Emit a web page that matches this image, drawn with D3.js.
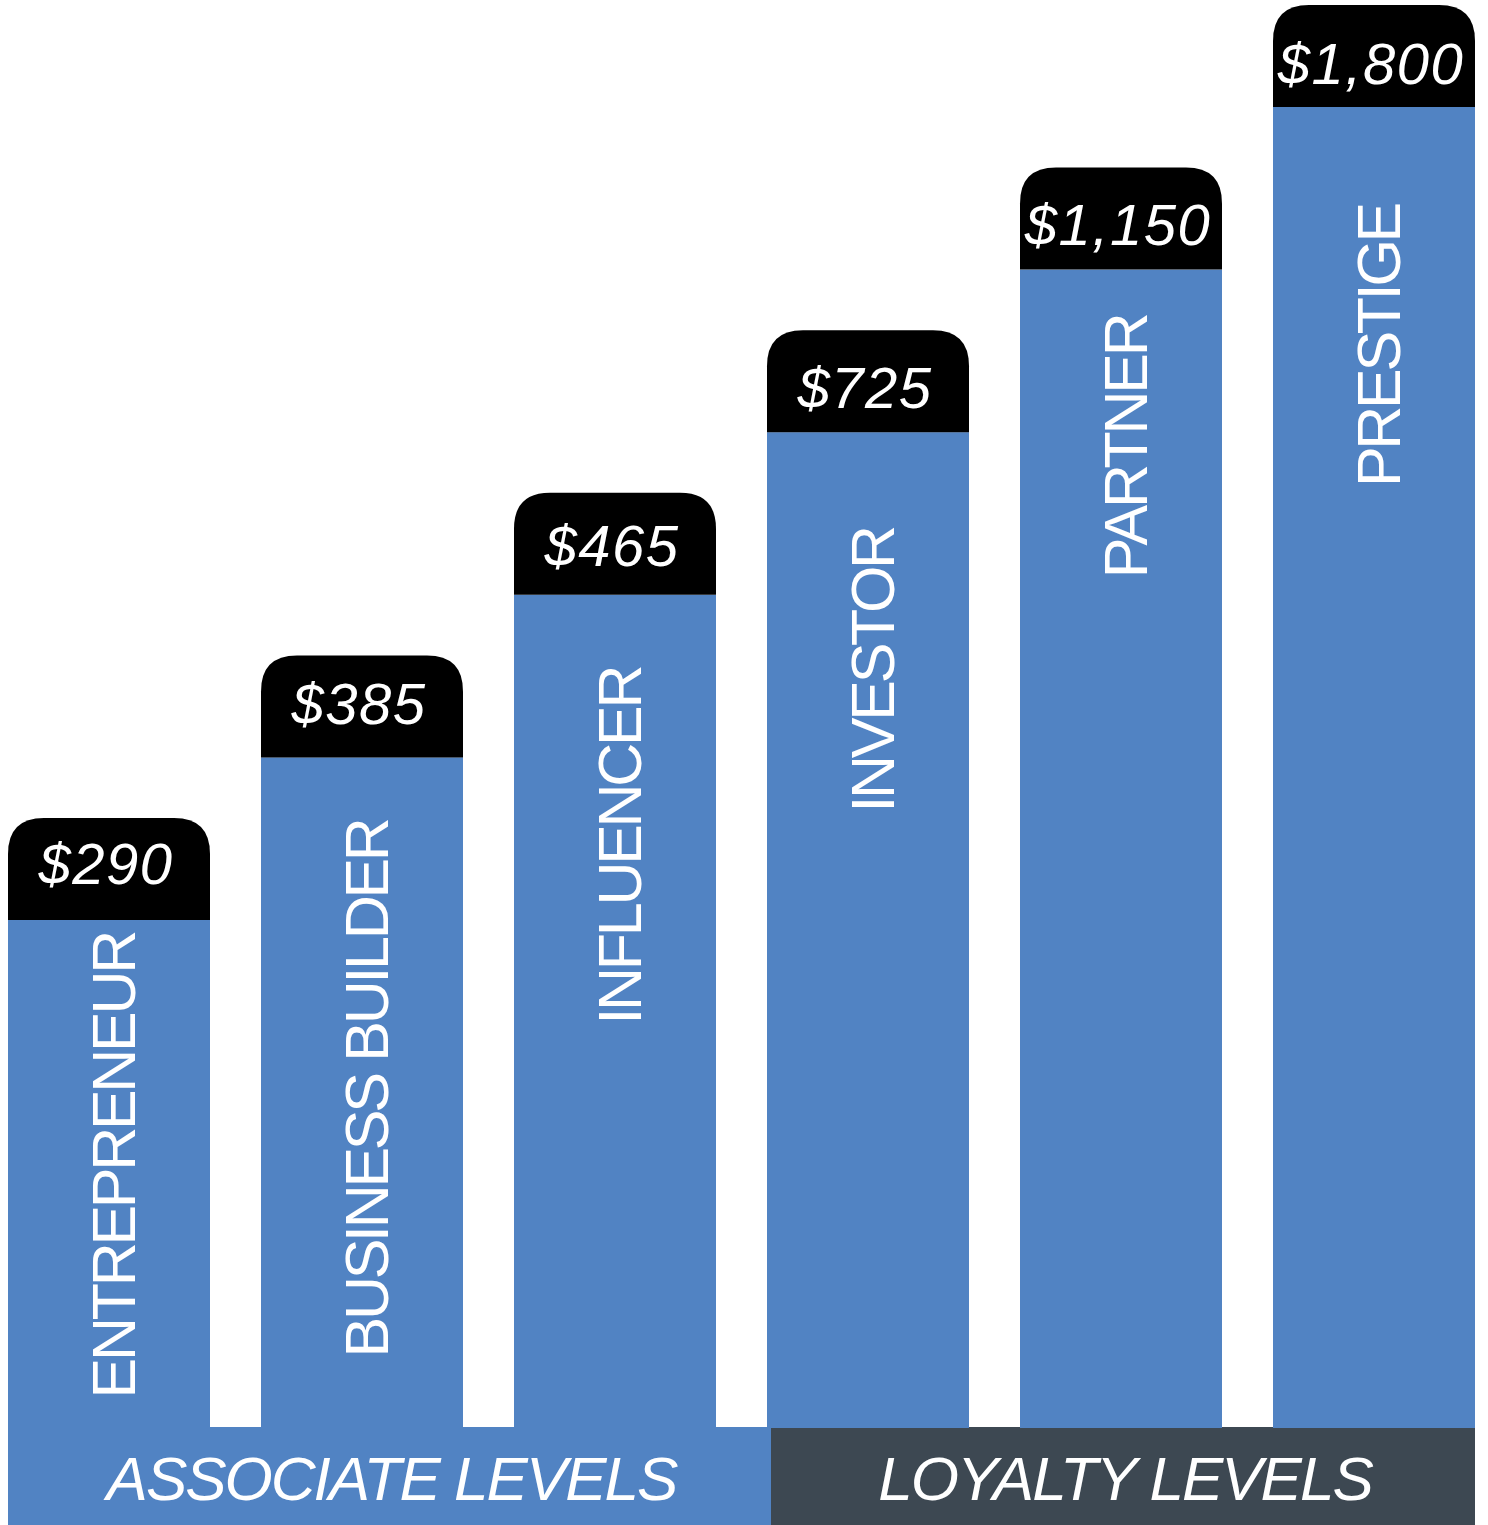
<!DOCTYPE html>
<html>
<head>
<meta charset="utf-8">
<script src="https://cdn.jsdelivr.net/npm/d3@7"></script>
<style>
  html, body { margin: 0; padding: 0; background: #fff; }
  svg { display: block; }
  text { font-family: "Liberation Sans", Arial, Helvetica, sans-serif; fill: #fff; }
</style>
</head>
<body>
<script>
// data
var levels = ["ENTREPRENEUR", "BUSINESS BUILDER", "INFLUENCER", "INVESTOR", "PARTNER", "PRESTIGE"];
var prices = [290, 385, 465, 725, 1150, 1800];
var tiers = [1, 2, 3, 4, 5, 6];
var groupOf = ["ASSOCIATE LEVELS", "ASSOCIATE LEVELS", "ASSOCIATE LEVELS", "LOYALTY LEVELS", "LOYALTY LEVELS", "LOYALTY LEVELS"];
var groupNames = ["ASSOCIATE LEVELS", "LOYALTY LEVELS"];

// layout: name label offset below bar top, price baseline above bar top (px)
var labelTop = [13, 63, 73, 96, 46, 98];
var priceAbove = [36, 33, 29, 24, 25, 23];

var W = 1488, H = 1525;
var baseY = 1427, footH = 98, capH = 102, r = 36;
var blue = "#5183c3", dark = "#3d4852";

var svg = d3.select("body").append("svg")
  .attr("width", W)
  .attr("height", H);

var x = d3.scaleBand()
  .domain(levels)
  .range([8, 1475])
  .paddingInner(51 / 253)
  .paddingOuter(0);

var y = d3.scaleLinear()
  .domain([1, 6])
  .range([920, 107]);

var rows = levels.map(function (d, i) {
  return { name: d, price: prices[i], tier: tiers[i], group: groupOf[i] };
});

// footer bands
var groupX = function (g) {
  var members = rows.filter(function (d) { return d.group == g; });
  var first = x(members[0].name), last = x(members[members.length - 1].name) + x.bandwidth();
  return [first, last];
};
var gi0 = groupX(groupNames[0]), gi1 = groupX(groupNames[1]);
var bands = [
  { name: groupNames[0], x0: gi0[0], x1: gi1[0] + 4, fill: blue },
  { name: groupNames[1], x0: gi1[0] + 4, x1: gi1[1], fill: dark }
];

svg.selectAll(".foot")
  .data(bands)
  .enter()
  .append("rect")
  .attr("class", "foot")
  .attr("x", function (d) { return d.x0; })
  .attr("y", baseY)
  .attr("width", function (d) { return d.x1 - d.x0; })
  .attr("height", footH)
  .attr("fill", function (d) { return d.fill; });

svg.selectAll(".footLabel")
  .data(bands)
  .enter()
  .append("text")
  .attr("class", "footLabel")
  .attr("x", function (d) { return (d.x0 + d.x1) / 2 + 2; })
  .attr("y", baseY + 73)
  .attr("text-anchor", "middle")
  .style("font-size", "62px")
  .style("font-style", "italic")
  .style("letter-spacing", "-2px")
  .text(function (d) { return d.name; });

// bars
svg.selectAll(".bar")
  .data(rows)
  .enter()
  .append("rect")
  .attr("class", "bar")
  .attr("x", function (d) { return x(d.name); })
  .attr("y", function (d) { return y(d.tier); })
  .attr("width", x.bandwidth())
  .attr("height", function (d) { return baseY - y(d.tier) + 1; })
  .attr("fill", blue);

// black caps with rounded top corners
svg.selectAll(".cap")
  .data(rows)
  .enter()
  .append("path")
  .attr("class", "cap")
  .attr("d", function (d) {
    var x0 = x(d.name), x1 = x0 + x.bandwidth();
    var b = y(d.tier), t = b - capH;
    return "M" + x0 + "," + b +
      "V" + (t + r) +
      "Q" + x0 + "," + t + " " + (x0 + r) + "," + t +
      "H" + (x1 - r) +
      "Q" + x1 + "," + t + " " + x1 + "," + (t + r) +
      "V" + b + "Z";
  })
  .attr("fill", "#000");

// price labels
svg.selectAll(".price")
  .data(rows)
  .enter()
  .append("text")
  .attr("class", "price")
  .attr("x", function (d) { return x(d.name) + x.bandwidth() / 2 - 3; })
  .attr("y", function (d, i) { return y(d.tier) - priceAbove[i]; })
  .attr("text-anchor", "middle")
  .style("font-size", "58px")
  .style("font-style", "italic")
  .style("letter-spacing", "1.5px")
  .text(function (d) { return "$" + d3.format(",")(d.price); });

// level names, rotated
svg.selectAll(".level")
  .data(rows)
  .enter()
  .append("text")
  .attr("class", "level")
  .attr("transform", function (d, i) {
    var cx = x(d.name) + x.bandwidth() / 2 + 26;
    var cy = y(d.tier) + labelTop[i];
    return "translate(" + cx + "," + cy + ") rotate(-90)";
  })
  .attr("text-anchor", "end")
  .style("font-size", "61px")
  .style("letter-spacing", "-3.3px")
  .text(function (d) { return d.name; });
</script>
</body>
</html>
